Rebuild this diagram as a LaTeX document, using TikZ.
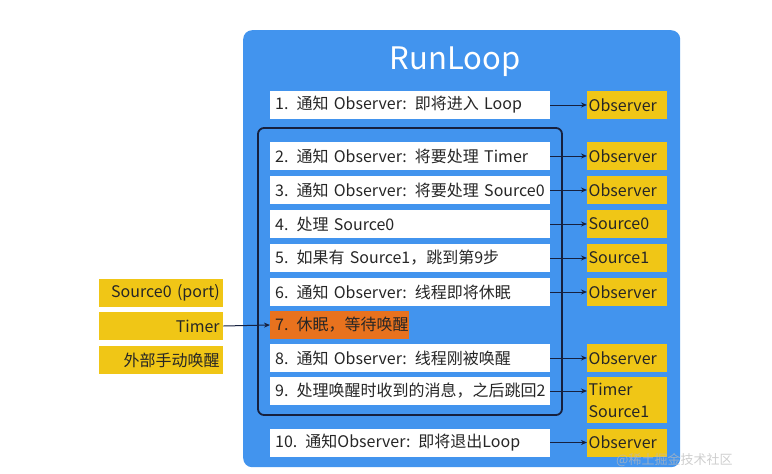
\documentclass[tikz,border=0pt]{standalone}
\usepackage{fontspec}
\setmainfont{Noto Sans CJK SC}
\usetikzlibrary{arrows.meta}
\definecolor{rlblue}{RGB}{66,148,238}
\definecolor{rlyellow}{RGB}{240,198,22}
\definecolor{rlorange}{RGB}{232,114,30}
\definecolor{rlnavy}{RGB}{22,32,62}
\tikzset{
  boxfont/.style={font=\fontsize{16}{19}\selectfont},
  stepbox/.style={fill=white, minimum height=28pt, text width=270pt, inner xsep=5pt, inner ysep=0pt, align=left, anchor=west, boxfont, text=black!85},
  sleepbox/.style={stepbox, fill=rlorange, text width=129pt},
  obsbox/.style={fill=rlyellow, minimum height=28pt, text width=77pt, inner xsep=1.5pt, inner ysep=0pt, align=left, anchor=west, boxfont, text=black!85},
  srcbox/.style={fill=rlyellow, minimum height=28pt, text width=117pt, inner xsep=3.5pt, inner ysep=0pt, align=right, anchor=west, boxfont, text=black!85},
  conn/.style={draw=rlnavy, line width=1pt, -{Stealth[length=6pt,width=5pt]}},
}
\begin{document}
\begin{tikzpicture}[x=1pt,y=-1pt]
\useasboundingbox (0,0) rectangle (772,474);
% main RunLoop panel
\node[fill=rlblue, rounded corners=9pt, minimum width=437pt, minimum height=437pt, anchor=north west, inner sep=0pt] (panel) at (243,30) {};
\node[text=white, font=\fontsize{31}{36}\selectfont] (title) at (455,62) {RunLoop};
% loop frame
\draw[rlnavy, line width=1.8pt, rounded corners=6pt] (258,128) rectangle (562,415);
% steps
\node[stepbox] (s1) at (270,105) {\mbox{1. 通知 Observer: 即将进入 Loop}};
\node[stepbox] (s2) at (270,156) {\mbox{2. 通知 Observer: 将要处理 Timer}};
\node[stepbox] (s3) at (270,190) {\mbox{3. 通知 Observer: 将要处理 Source0}};
\node[stepbox] (s4) at (270,224) {\mbox{4. 处理 Source0}};
\node[stepbox] (s5) at (270,258) {\mbox{5. 如果有 Source1，跳到第9步}};
\node[stepbox] (s6) at (270,292) {\mbox{6. 通知 Observer: 线程即将休眠}};
\node[sleepbox] (s7) at (270,325) {\mbox{7. 休眠，等待唤醒}};
\node[stepbox] (s8) at (270,358) {\mbox{8. 通知 Observer: 线程刚被唤醒}};
\node[stepbox] (s9) at (270,391) {\mbox{9. 处理唤醒时收到的消息，之后跳回2}};
\node[stepbox] (s10) at (270,442.5) {\mbox{10. 通知Observer: 即将退出Loop}};
% observers
\node[obsbox] (o1) at (587,105) {Observer};
\node[obsbox] (o2) at (587,156) {Observer};
\node[obsbox] (o3) at (587,190) {Observer};
\node[obsbox] (o4) at (587,224) {Source0};
\node[obsbox] (o5) at (587,258) {Source1};
\node[obsbox] (o6) at (587,292) {Observer};
\node[obsbox] (o8) at (587,358) {Observer};
\node[obsbox, minimum height=46pt, font=\fontsize{16}{22}\selectfont] (o9) at (587,400) {Timer\\Source1};
\node[obsbox] (o10) at (587,442.5) {Observer};
% sources
\node[srcbox] (p1) at (99,292.5) {Source0 (port)};
\node[srcbox] (p2) at (99,326) {Timer};
\node[srcbox] (p3) at (99,360) {外部手动唤醒};
% connectors
\foreach \i in {1,2,3,4,5,6,8,10}{
  \draw[conn] (s\i.east) -- (o\i.west);
}
\draw[conn] (s9.east) -- (s9.east -| o9.west);
\draw[conn] (p2.east) -- (s7.west);
% watermark
\node[text=gray!55, opacity=0.7, font=\fontsize{13}{15}\selectfont, anchor=west, inner sep=0pt] (wm) at (616,460) {@稀土掘金技术社区};
\end{tikzpicture}
\end{document}
